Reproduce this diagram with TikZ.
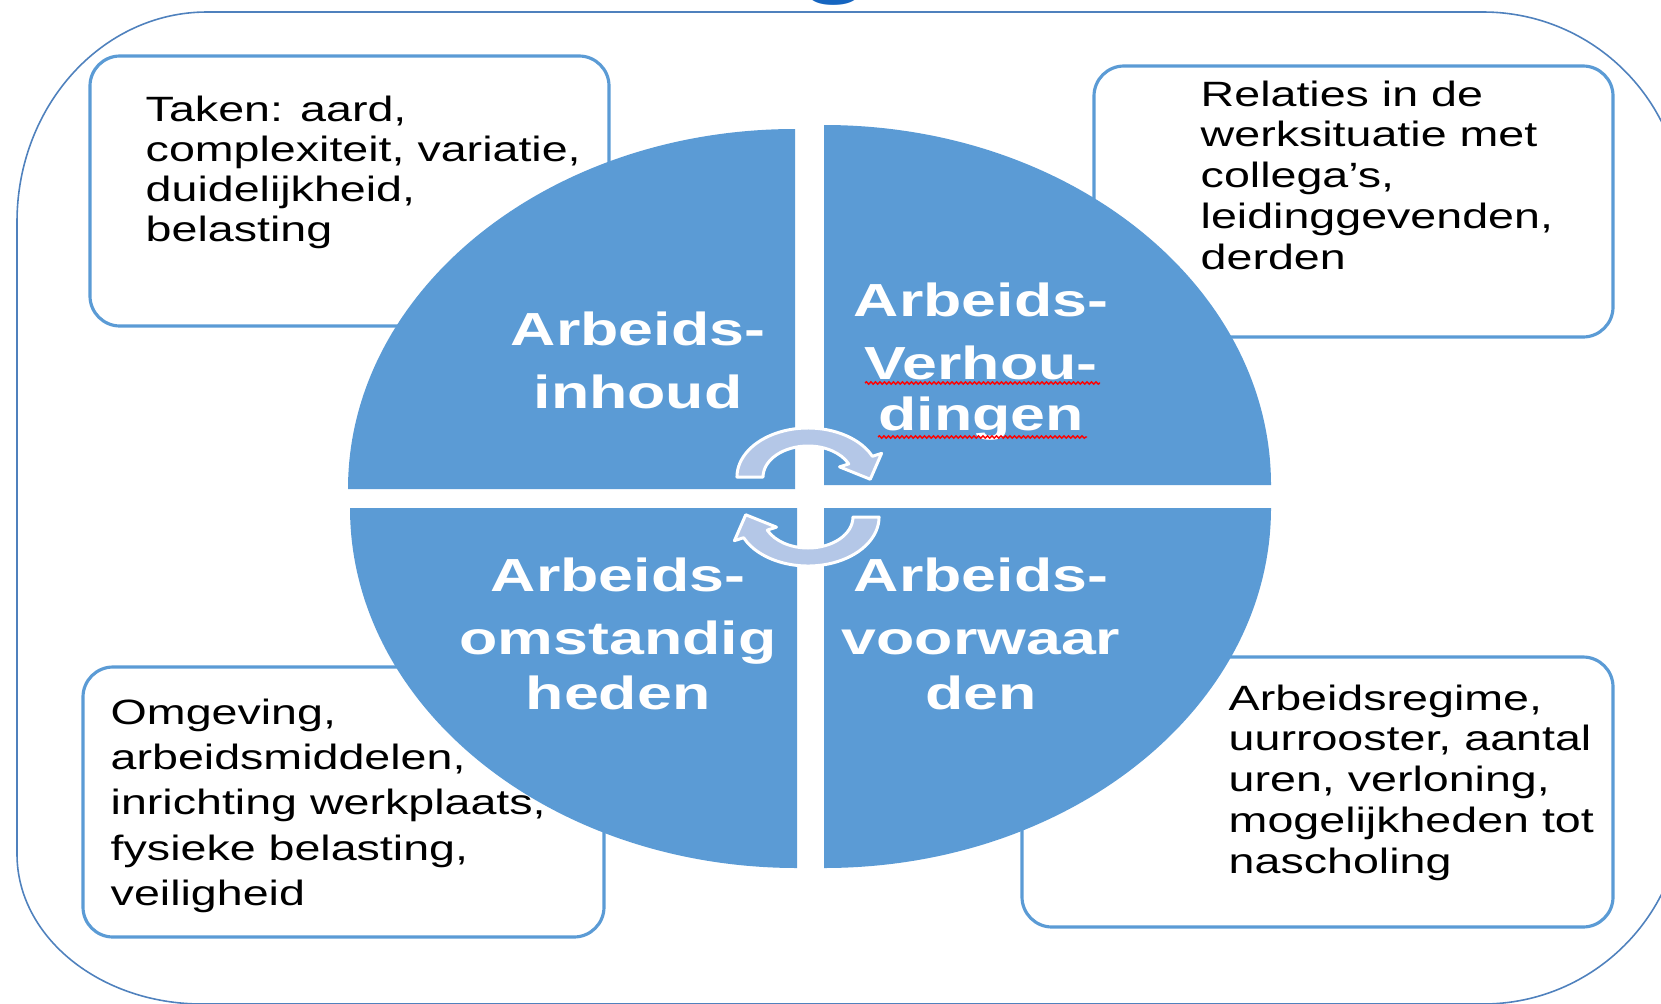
\documentclass[tikz,border=0pt]{standalone}
\usepackage{fontspec}
\setmainfont{Liberation Sans}[FakeStretch=1.35]
\newfontfamily\boxfont{Liberation Sans}[FakeStretch=1.325]
\usetikzlibrary{decorations.pathmorphing}
\definecolor{piecol}{RGB}{91,155,213}
\definecolor{boxcol}{RGB}{91,155,213}
\definecolor{framecol}{RGB}{79,129,189}
\definecolor{arrowcol}{RGB}{180,199,231}
\definecolor{titlecol}{RGB}{21,101,192}

\begin{document}
\begin{tikzpicture}[x=0.01cm,y=-0.01cm,
	frame/.style={draw=framecol,line width=0.45pt},
	infobox/.style={draw=boxcol,line width=0.9pt,rounded corners=0.3cm},
	infotext/.style={anchor=north west,align=left,inner sep=0pt,font=\boxfont\fontsize{10pt}{11.4pt}\selectfont},
	quarter/.style={fill=piecol},
	pietext/.style={anchor=north,align=center,inner sep=0pt,text=white,font=\fontsize{13.2pt}{17.9pt}\selectfont\bfseries},
	turn/.style={fill=arrowcol,draw=white,line width=0.85pt,line join=round},
	spell/.style={draw=red,line width=0.4pt,decorate,decoration={snake,amplitude=0.012cm,segment length=0.045cm}}]
		\useasboundingbox (0,0) rectangle (1661,1003);
		\draw[frame] (17,222) arc[start angle=180,end angle=270,x radius=190,y radius=210] -- (1483,12) arc[start angle=270,end angle=360,radius=200] -- (1683,804) arc[start angle=0,end angle=90,radius=200] -- (202,1004) arc[start angle=90,end angle=180,x radius=185,y radius=150] -- cycle;
		\node[text=titlecol,inner sep=0pt,anchor=base,font=\fontsize{24pt}{24pt}\selectfont\bfseries] (titleg) at (835,-12) {g};
		
		\draw[infobox] (90,56) rectangle (609,326);
		\draw[infobox] (1094,66) rectangle (1613,337);
		\draw[infobox] (83,667) rectangle (604,937);
		\draw[infobox] (1022,657) rectangle (1613,927);
		
		\node[infotext] (taken) at (145,95) {Taken: aard,\\complexiteit, variatie,\\duidelijkheid,\\belasting};
		\node[infotext,font=\boxfont\fontsize{10pt}{11.6pt}\selectfont] (relaties) at (1200,80) {Relaties in de\\werksituatie met\\collega’s,\\leidinggevenden,\\derden};
		\node[infotext,font=\boxfont\fontsize{10pt}{12.9pt}\selectfont] (omgeving) at (110,698) {Omgeving,\\arbeidsmiddelen,\\inrichting werkplaats,\\fysieke belasting,\\veiligheid};
		\node[infotext,font=\boxfont\fontsize{10pt}{11.6pt}\selectfont] (regime) at (1228,684) {Arbeidsregime,\\uurrooster, aantal\\uren, verloning,\\mogelijkheden tot\\nascholing};
		
		\fill[quarter] (795,489) -- (348,489) arc[start angle=180,end angle=270,x radius=447,y radius=360] -- cycle;
		\fill[quarter] (824,485) -- (1271,485) arc[start angle=360,end angle=270,x radius=447,y radius=360] -- cycle;
		\fill[quarter] (797,508) -- (350,508) arc[start angle=180,end angle=90,x radius=447,y radius=360] -- cycle;
		\fill[quarter] (824,508) -- (1271,508) arc[start angle=0,end angle=90,x radius=447,y radius=360] -- cycle;
		
		\node[pietext] (inhoud) at (638,311) {Arbeids-\\inhoud};
		\node[pietext] (verhoudingen) at (981,282) {Arbeids-\\Verhou-\\[-3.4pt]dingen};
		\node[pietext] (omstandigheden) at (618,557) {Arbeids-\\omstandig\\[-2.3pt]heden};
		\node[pietext] (voorwaarden) at (981,557) {Arbeids-\\voorwaar\\[-2.3pt]den};
		\draw[spell] (865,383) -- (1100,383);
		\draw[spell] (878,437) -- (1087,437);
		
		\begin{scope}[shift={(808,477)},xscale=1.45,yscale=-1]
			\draw[turn] (180:49) -- (180:31) arc[start angle=180,end angle=25,radius=31] -- (25:24) -- (-3:43) -- (25:56) -- (25:49) arc[start angle=25,end angle=180,radius=49] -- cycle;
		\end{scope}
		\begin{scope}[shift={(808,517)},xscale=1.45,yscale=-1,rotate=180]
			\draw[turn] (180:49) -- (180:31) arc[start angle=180,end angle=25,radius=31] -- (25:24) -- (-3:43) -- (25:56) -- (25:49) arc[start angle=25,end angle=180,radius=49] -- cycle;
		\end{scope}
\end{tikzpicture}
\end{document}
